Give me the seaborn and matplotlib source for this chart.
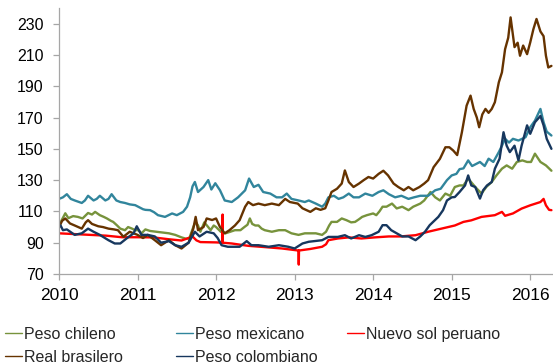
import matplotlib
matplotlib.use("Agg")
import matplotlib.pyplot as plt
import pandas as pd
import seaborn as sns
from matplotlib.lines import Line2D

# Exchange-rate indices (base 2010 = 100), decimal year vs. index level
chileno_t = [2010.00, 2010.03, 2010.08, 2010.12, 2010.18, 2010.24, 2010.30, 2010.37, 2010.42, 2010.46,
             2010.52, 2010.57, 2010.61, 2010.66, 2010.69, 2010.74, 2010.78, 2010.84, 2010.88, 2010.93,
             2010.97, 2011.01, 2011.05, 2011.10, 2011.16, 2011.24, 2011.32, 2011.40, 2011.48, 2011.56,
             2011.62, 2011.66, 2011.71, 2011.74, 2011.77, 2011.80, 2011.85, 2011.90, 2011.93, 2011.97,
             2012.00, 2012.06, 2012.12, 2012.18, 2012.24, 2012.31, 2012.36, 2012.40, 2012.43, 2012.46,
             2012.50, 2012.54, 2012.58, 2012.62, 2012.71, 2012.80, 2012.88, 2012.96, 2013.05, 2013.13,
             2013.20, 2013.27, 2013.35, 2013.40, 2013.44, 2013.47, 2013.54, 2013.60, 2013.66, 2013.72,
             2013.77, 2013.82, 2013.86, 2013.92, 2014.00, 2014.04, 2014.08, 2014.12, 2014.17, 2014.24,
             2014.30, 2014.37, 2014.45, 2014.51, 2014.60, 2014.65, 2014.73, 2014.79, 2014.85, 2014.92,
             2014.98, 2015.04, 2015.10, 2015.15, 2015.21, 2015.26, 2015.30, 2015.38, 2015.44, 2015.51,
             2015.57, 2015.64, 2015.70, 2015.77, 2015.83, 2015.90, 2015.96, 2016.01, 2016.06, 2016.13,
             2016.20, 2016.27]
chileno_v = [100, 104, 108.8, 105.7, 107, 106.5, 105.5, 109, 108, 109.7,
             107.6, 106.5, 105.5, 104, 103.3, 101, 99, 98, 100, 99,
             98, 98, 96, 98.5, 97.5, 97, 96.5, 96, 95, 93.4,
             92.5, 93, 100, 103.3, 101, 97, 103, 100, 98, 101,
             100, 97, 96, 97, 98, 98, 100, 101.5, 105.5, 102,
             101, 101, 99, 98, 97, 98, 98, 96, 95, 96,
             96, 96, 95, 97, 101, 103.3, 103.3, 105.5, 104.4, 103,
             103.3, 105, 106.5, 107.6, 108.7, 107.6, 110, 113, 113, 115,
             111.9, 113, 110.8, 113, 115, 117, 122.4, 119, 117, 121.4,
             120, 125.6, 126.6, 126.6, 131, 128, 125.6, 121.4, 125.6, 128.8,
             133, 137.3, 139.4, 137.3, 141.6, 142.6, 141.6, 141.6, 146.9, 141.6,
             139.4, 136]

mexicano_t = [2010.00, 2010.05, 2010.10, 2010.15, 2010.20, 2010.29, 2010.33, 2010.37, 2010.44, 2010.48,
              2010.52, 2010.59, 2010.63, 2010.67, 2010.73, 2010.78, 2010.84, 2010.90, 2010.97, 2011.07,
              2011.10, 2011.16, 2011.21, 2011.26, 2011.35, 2011.44, 2011.50, 2011.58, 2011.63, 2011.67,
              2011.70, 2011.73, 2011.77, 2011.84, 2011.90, 2011.94, 2011.99, 2012.05, 2012.11, 2012.20,
              2012.28, 2012.37, 2012.42, 2012.48, 2012.54, 2012.60, 2012.69, 2012.77, 2012.84, 2012.90,
              2012.96, 2013.05, 2013.13, 2013.18, 2013.27, 2013.35, 2013.39, 2013.43, 2013.50, 2013.56,
              2013.62, 2013.69, 2013.75, 2013.82, 2013.90, 2013.99, 2014.07, 2014.13, 2014.20, 2014.28,
              2014.36, 2014.45, 2014.52, 2014.60, 2014.70, 2014.79, 2014.86, 2014.94, 2015.00, 2015.06,
              2015.10, 2015.15, 2015.21, 2015.26, 2015.36, 2015.42, 2015.47, 2015.53, 2015.60, 2015.64,
              2015.68, 2015.73, 2015.78, 2015.85, 2015.94, 2016.00, 2016.06, 2016.13, 2016.17, 2016.21,
              2016.27]
mexicano_v = [118, 119, 121, 118, 117, 115.4, 117, 120, 117, 118,
              120, 117, 118, 121, 117, 116, 115.4, 114.5, 114, 111.4,
              111, 110.8, 109.5, 107.6, 106.5, 108.7, 107.6, 109.7, 113, 119,
              126, 128.8, 122.4, 125.6, 130, 124, 128, 123.5, 117, 116,
              119, 123.5, 131, 125.6, 127, 122.4, 121.4, 119, 119, 121.4,
              118, 117, 116, 117, 115, 113, 115, 119, 120, 118,
              119, 121.4, 119, 119, 121.4, 120, 122.4, 123.5, 121, 119,
              120, 118, 119, 120, 120, 123.5, 124.5, 130, 133, 134,
              137, 137.5, 142.6, 139, 141.6, 139, 143.7, 141.6, 147.9, 152,
              156.4, 154, 156.4, 155.3, 157.4, 163.8, 168, 175.5, 167, 161,
              158.5]

sol_t = [2010.00, 2010.20, 2010.40, 2010.60, 2010.80, 2011.00, 2011.20, 2011.40, 2011.56, 2011.65,
         2011.70, 2011.75, 2011.80, 2012.00, 2012.080, 2012.083, 2012.086, 2012.20, 2012.41, 2012.62,
         2012.84, 2013.00, 2013.050, 2013.053, 2013.056, 2013.20, 2013.35, 2013.40, 2013.43, 2013.55,
         2013.69, 2013.85, 2014.02, 2014.20, 2014.35, 2014.54, 2014.70, 2014.87, 2015.04, 2015.15,
         2015.25, 2015.38, 2015.55, 2015.64, 2015.68, 2015.78, 2015.89, 2016.00, 2016.13, 2016.17,
         2016.20, 2016.24, 2016.27]
sol_v = [96, 95.5, 95, 94.5, 93.5, 93.5, 93.4, 92.2, 91.4, 93,
         94, 91.5, 90.4, 90.2, 90, 108, 90, 89.5, 88, 87.2,
         86.3, 85.3, 85, 76, 85, 86, 87.4, 89, 91.6, 92.7,
         93.4, 92.7, 93.4, 94, 94, 94.8, 97, 99, 101, 103.3,
         104.3, 106.5, 107.6, 109.7, 107.2, 108.7, 111.8, 113.9, 116, 118,
         113.9, 111, 110.8]

real_t = [2010.00, 2010.04, 2010.08, 2010.14, 2010.20, 2010.29, 2010.34, 2010.37, 2010.42, 2010.50,
          2010.56, 2010.63, 2010.70, 2010.75, 2010.82, 2010.90, 2010.95, 2011.00, 2011.07, 2011.13,
          2011.22, 2011.30, 2011.40, 2011.48, 2011.56, 2011.65, 2011.71, 2011.74, 2011.77, 2011.84,
          2011.88, 2011.95, 2012.00, 2012.05, 2012.11, 2012.17, 2012.24, 2012.30, 2012.37, 2012.41,
          2012.47, 2012.54, 2012.62, 2012.71, 2012.80, 2012.88, 2012.94, 2013.04, 2013.10, 2013.20,
          2013.27, 2013.33, 2013.39, 2013.43, 2013.47, 2013.54, 2013.60, 2013.64, 2013.69, 2013.75,
          2013.82, 2013.88, 2013.94, 2014.00, 2014.07, 2014.13, 2014.19, 2014.26, 2014.32, 2014.39,
          2014.45, 2014.51, 2014.59, 2014.65, 2014.70, 2014.77, 2014.85, 2014.92, 2014.97, 2015.02,
          2015.07, 2015.13, 2015.19, 2015.24, 2015.28, 2015.32, 2015.35, 2015.39, 2015.43, 2015.47,
          2015.51, 2015.55, 2015.60, 2015.64, 2015.68, 2015.72, 2015.75, 2015.80, 2015.84, 2015.87,
          2015.91, 2015.96, 2016.00, 2016.04, 2016.08, 2016.13, 2016.17, 2016.20, 2016.23, 2016.27]
real_v = [100, 104, 105.5, 102.3, 101, 99, 103, 104.4, 102, 100.5,
          100, 99, 98.5, 98, 93.8, 97, 96, 95, 93, 95,
          91.6, 88.4, 91.6, 88.4, 86.3, 90, 99, 106.5, 98, 100,
          105.5, 104.5, 105.5, 100, 96, 98, 101, 104.4, 113, 116,
          114, 115, 114, 115, 114, 118, 116, 115, 112, 109.7,
          112, 111, 112, 117, 122.4, 124.5, 127.8, 136.2, 128.8, 125.6,
          127.8, 130, 132, 131, 134, 136, 133, 127.8, 125.6, 123.5,
          125.6, 123.5, 125.6, 127.8, 130, 138.3, 143.6, 151, 151, 148.9,
          146, 160.6, 177.6, 184, 175.5, 170, 163.8, 172, 175.5, 173,
          175.5, 179.8, 192.5, 198.9, 213.7, 221, 234, 215, 217.8, 209.5,
          216, 210.5, 218, 226.4, 233, 225, 222, 209.5, 202, 203]

colombiano_t = [2010.00, 2010.02, 2010.05, 2010.10, 2010.20, 2010.29, 2010.37, 2010.44, 2010.52, 2010.63,
                2010.71, 2010.78, 2010.86, 2010.95, 2010.99, 2011.05, 2011.13, 2011.22, 2011.30, 2011.40,
                2011.48, 2011.56, 2011.65, 2011.73, 2011.79, 2011.88, 2011.97, 2012.02, 2012.07, 2012.15,
                2012.30, 2012.39, 2012.45, 2012.54, 2012.67, 2012.80, 2012.92, 2013.00, 2013.10, 2013.18,
                2013.35, 2013.43, 2013.55, 2013.64, 2013.72, 2013.82, 2013.90, 2013.98, 2014.07, 2014.12,
                2014.17, 2014.23, 2014.30, 2014.37, 2014.45, 2014.54, 2014.60, 2014.66, 2014.72, 2014.83,
                2014.89, 2014.94, 2015.00, 2015.04, 2015.10, 2015.17, 2015.21, 2015.25, 2015.30, 2015.36,
                2015.40, 2015.45, 2015.51, 2015.55, 2015.61, 2015.66, 2015.70, 2015.74, 2015.80, 2015.85,
                2015.89, 2015.96, 2016.00, 2016.06, 2016.13, 2016.17, 2016.21, 2016.27]
colombiano_v = [100, 101, 98, 98.5, 95, 96, 99, 97, 95, 91.6,
                89.5, 89.5, 92.7, 96, 100.5, 95, 95, 94, 90, 91,
                88.4, 87.4, 90, 97, 94, 97, 96, 93, 88.4, 87.4,
                87.4, 91, 88.4, 88.4, 87.4, 88.4, 87.4, 86.3, 89.5, 90.6,
                91.6, 93.7, 93.7, 94.8, 92.7, 94.8, 93.7, 94.8, 97, 101.2,
                101.2, 98, 96, 94, 94, 91.6, 94, 97, 101.2, 106.5,
                110.8, 117, 119, 119.2, 122.4, 126.6, 133, 126.6, 125.6, 118.2,
                123.5, 126.6, 128.8, 137.3, 143.7, 160.6, 152, 147.9, 152, 142.6,
                152, 165, 159.6, 167, 171, 165, 156.4, 150]

series = ["Peso chileno", "Peso mexicano", "Nuevo sol peruano", "Real brasilero", "Peso colombiano"]
palette = {
    "Peso chileno": "#77933C",
    "Peso mexicano": "#31859C",
    "Nuevo sol peruano": "#FF0000",
    "Real brasilero": "#663300",
    "Peso colombiano": "#17375E",
}
year_ticks = [2010, 2011, 2012, 2013, 2014, 2015, 2016]
value_ticks = [70, 90, 110, 130, 150, 170, 190, 210, 230]

frames = []
for name, t, v in zip(series,
                      [chileno_t, mexicano_t, sol_t, real_t, colombiano_t],
                      [chileno_v, mexicano_v, sol_v, real_v, colombiano_v]):
    frames.append(pd.DataFrame({"año": t, "índice": v, "moneda": name}))
df = pd.concat(frames, ignore_index=True)

sns.set_style("ticks")
plt.rcParams["font.family"] = ["Liberation Sans", "DejaVu Sans"]

W, H = 553, 364
fig = plt.figure(figsize=(W / 100, H / 100), dpi=100)
ax = fig.add_axes([59 / W, 90 / H, 494 / W, 266 / H])

sns.lineplot(data=df, x="año", y="índice", hue="moneda", hue_order=series,
             palette=palette, sort=False, estimator=None, linewidth=1.7,
             legend=False, ax=ax)

ax.set_xlim(2010, 2016.29)
ax.set_ylim(70, 240)
ax.set_xticks(year_ticks)
ax.set_xticklabels([str(y) for y in year_ticks])
ax.set_yticks(value_ticks)
ax.set_xlabel("")
ax.set_ylabel("")

axis_grey = "#A6A6A6"
for side in ("top", "right"):
    ax.spines[side].set_visible(False)
for side in ("left", "bottom"):
    ax.spines[side].set_color(axis_grey)
    ax.spines[side].set_linewidth(0.9)
ax.tick_params(axis="both", direction="out", length=4, width=0.9,
               color=axis_grey, labelcolor="black")
ax.tick_params(axis="x", labelsize=12.5, pad=6)
ax.tick_params(axis="y", labelsize=11.5, pad=7)

# Legend laid out on a fixed three-column grid below the plot
columns = [
    (5, ["Peso chileno", "Real brasilero"]),
    (176, ["Peso mexicano", "Peso colombiano"]),
    (347, ["Nuevo sol peruano"]),
]
for x0, names in columns:
    handles = [Line2D([], [], color=palette[n], linewidth=1.0) for n in names]
    fig.legend(handles, names, loc="upper left",
               bbox_to_anchor=(x0 / W, 1 - 327 / H), bbox_transform=fig.transFigure,
               frameon=False, borderpad=0, borderaxespad=0, handlelength=1.06,
               handletextpad=0.1, labelspacing=0.47, fontsize=11.5)

fig.savefig("out.png", dpi=100)
